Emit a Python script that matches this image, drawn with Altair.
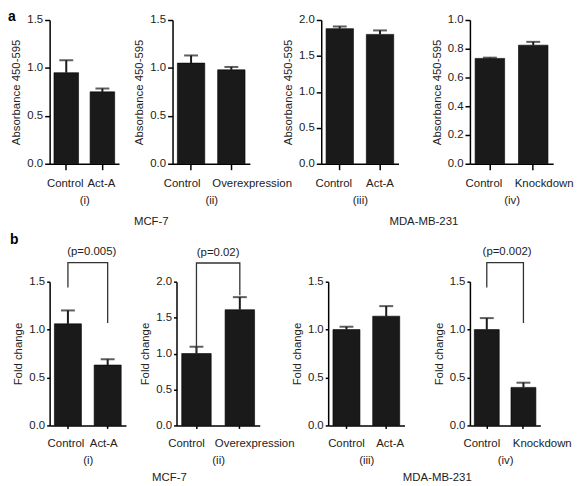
import altair as alt
import pandas as pd

FONT = "Liberation Sans"
FS = 11.5
INK = "#1a1a1a"

# ---------------- data ----------------
a_cats = [["Control", "Act-A"], ["Control", "Overexpression"],
          ["Control", "Act-A"], ["Control", "Knockdown"]]
a_means = [[0.95, 0.75], [1.05, 0.98], [1.88, 1.80], [0.733, 0.825]]
a_errs = [[1.08, 0.785], [1.13, 1.01], [1.91, 1.855], [0.738, 0.848]]
a_ticks = [[0, 0.5, 1.0, 1.5], [0, 0.5, 1.0, 1.5],
           [0, 0.5, 1.0, 1.5, 2.0], [0, 0.2, 0.4, 0.6, 0.8, 1.0]]
a_sub = ["(i)", "(ii)", "(iii)", "(iv)"]

b_cats = [["Control", "Act-A"], ["Control", "Overexpression"],
          ["Control", "Act-A"], ["Control", "Knockdown"]]
b_means = [[1.06, 0.63], [1.00, 1.61], [1.00, 1.14], [1.00, 0.397]]
b_errs = [[1.20, 0.69], [1.095, 1.785], [1.03, 1.245], [1.12, 0.446]]
b_ticks = [[0, 0.5, 1.0, 1.5], [0, 0.5, 1.0, 1.5, 2.0],
           [0, 0.5, 1.0, 1.5], [0, 0.5, 1.0, 1.5]]
b_sub = ["(i)", "(ii)", "(iii)", "(iv)"]
b_pvals = ["(p=0.005)", "(p=0.02)", None, "(p=0.002)"]
# bracket heights: [left end, top, top, right end]
b_brackets = [[1.44, 1.70, 1.70, 1.07], [1.03, 2.26, 2.26, 1.81],
              None, [1.44, 1.70, 1.70, 1.07]]

groups = ["MCF-7", "MDA-MB-231"]


def panel(cats, means, errs, ticks, ytitle, xtitle, width, loff,
          xtick, ytick, lab_pad, ptext=None, bracket=None, blank_title=False,
          pdx=0, toff=2):
    df = pd.DataFrame({"cat": cats, "mean": means, "err": errs})
    xaxis = alt.Axis(
        title=xtitle, labelAngle=0, tickSize=xtick, labelPadding=lab_pad,
        titlePadding=6,
        labelOffset={"condition": {"test": f"datum.value === '{cats[0]}'",
                                   "value": loff[0]}, "value": loff[1]},
    )
    yaxis = alt.Axis(title=ytitle, values=ticks, format=".1f",
                     tickSize=ytick, titlePadding=5, labelPadding=2)
    xs = alt.Scale(paddingInner=0.32, paddingOuter=0.12)
    ys = alt.Scale(domain=[0, ticks[-1]], nice=False, zero=True)
    X = alt.X("cat:N", sort=cats, scale=xs, axis=xaxis)

    bars = alt.Chart(df).mark_bar(color=INK, stroke="#000", strokeWidth=0.6).encode(
        x=X, y=alt.Y("mean:Q", scale=ys, axis=yaxis))
    err = alt.Chart(df).mark_rule(color=INK, strokeWidth=2).encode(
        x=X, y=alt.Y("mean:Q", scale=ys, axis=yaxis), y2="err:Q")
    cap = alt.Chart(df).mark_tick(color=INK, thickness=2, size=14).encode(
        x=X, y=alt.Y("err:Q", scale=ys, axis=yaxis))
    layers = [bars, err, cap]
    if bracket is not None:
        bdf = pd.DataFrame({"cat": [cats[0], cats[0], cats[1], cats[1]],
                            "err": bracket, "o": [0, 1, 2, 3]})
        line = alt.Chart(bdf).mark_line(color="#333", strokeWidth=1.3).encode(
            x=X, y=alt.Y("err:Q", scale=ys, axis=yaxis), order="o:Q")
        layers.append(line)
    ch = alt.layer(*layers).properties(width=width, height=145)
    if ptext is not None or blank_title:
        ch = ch.properties(title=alt.TitleParams(
            ptext if ptext is not None else " ", fontSize=FS, fontWeight="normal",
            font=FONT, color="#222", offset=toff, dx=pdx, frame="group"))
    return ch


# Row a
a_w = [70, 78, 78, 84]
a_off = [[-1, -1], [-9, 21], [-6, 0], [-6, 11]]
pa = [panel(a_cats[i], a_means[i], a_errs[i], a_ticks[i], "Absorbance 450-595",
            a_sub[i], a_w[i], a_off[i], 6, 5, 7.5) for i in range(4)]

# Row b
b_w = [77, 84, 77, 71]
b_off = [[-2, -4], [-10, 15], [0, 4], [-5, 19]]
b_pdx = [4, 0, 0, 2]
b_toff = [2, 2, 14, 2]
pb = [panel(b_cats[i], b_means[i], b_errs[i], b_ticks[i], "Fold change",
            b_sub[i], b_w[i], b_off[i], 3, 3, 9, ptext=b_pvals[i],
            bracket=b_brackets[i], blank_title=True, pdx=b_pdx[i],
            toff=b_toff[i]) for i in range(4)]


def gtitle(t, dx=0, off=10):
    return alt.TitleParams(t, orient="bottom", anchor="middle", fontSize=FS,
                           fontWeight="normal", font=FONT, color="#222",
                           offset=off, dx=dx)


def rtitle(t, off):
    return alt.TitleParams(t, anchor="start", fontSize=14, fontWeight="bold",
                           font=FONT, color="#000", offset=off, dx=-3)


rowA = alt.hconcat(
    alt.hconcat(pa[0], pa[1], spacing=15).properties(title=gtitle(groups[0])),
    alt.hconcat(pa[2], pa[3], spacing=33).properties(title=gtitle(groups[1], -4)),
    spacing=-10,
).properties(title=rtitle("a", -10))

rowB = alt.hconcat(
    alt.hconcat(pb[0], pb[1], spacing=14).properties(title=gtitle(groups[0], 16, 6)),
    alt.hconcat(pb[2], pb[3], spacing=29).properties(title=gtitle(groups[1], 6, 6)),
    spacing=-3,
).properties(title=rtitle("b", 0))

chart = alt.vconcat(rowA, rowB, spacing=5).properties(
    padding=0
).configure(font=FONT).configure_view(stroke=None).configure_axis(
    domainColor="#000", domainWidth=1.5, tickColor="#000", tickWidth=1.5,
    labelFont=FONT, labelFontSize=FS, labelColor="#222",
    titleFont=FONT, titleFontSize=FS, titleFontWeight="normal", titleColor="#222",
    grid=False,
)

chart.save("out.html", embed_options={"renderer": "svg", "actions": False})
